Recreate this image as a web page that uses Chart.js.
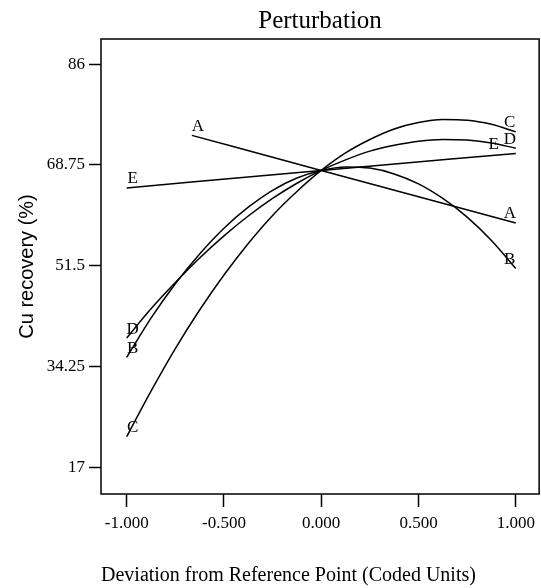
<!DOCTYPE html>
<html>
<head>
<meta charset="utf-8">
<script src="https://cdn.jsdelivr.net/npm/chart.js@4.4.1/dist/chart.umd.min.js"></script>
<style>
  html, body { margin: 0; padding: 0; background: #fff; }
</style>
</head>
<body>
<canvas id="perturbation" width="541" height="588"></canvas>
<script>
// deviation from reference point (coded units)
const xGrid = [-1, -0.875, -0.75, -0.625, -0.5, -0.375, -0.25, -0.125, 0,
               0.125, 0.25, 0.375, 0.5, 0.625, 0.75, 0.875, 1];

// curved factors at each xGrid position
const valuesC = [22.2, 30.0, 37.3, 43.9, 49.9, 55.3, 60.1, 64.2, 67.8,
                 70.8, 73.1, 74.9, 76.0, 76.5, 76.4, 75.7, 74.4];
const valuesD = [39.1, 44.1, 48.6, 52.8, 56.6, 60.0, 63.0, 65.6, 67.8,
                 69.6, 71.1, 72.1, 72.8, 73.1, 73.0, 72.5, 71.6];
const valuesB = [35.8, 42.5, 48.4, 53.5, 57.9, 61.5, 64.4, 66.5, 67.8,
                 68.4, 68.2, 67.2, 65.5, 63.0, 59.8, 55.8, 51.0];

// straight factors
const xA = [-0.665, 0, 1];
const valuesA = [73.8, 67.8, 58.8];
const xE = [-1, 0, 1];
const valuesE = [64.8, 67.8, 70.7];

const xTicks = [-1, -0.5, 0, 0.5, 1];
const yTicks = [17, 34.25, 51.5, 68.75, 86];

function points(xs, ys) {
    return xs.map((x, i) => ({ x: x, y: ys[i] }));
}

function courbe(label, data) {
    return {
        label: label,
        data: data,
        borderColor: "#000",
        borderWidth: 1.5,
        pointRadius: 0,
        fill: false,
        cubicInterpolationMode: "monotone"
    };
}

// cadre autour du graphique + lettres au bout des courbes
const cadre = {
    id: "cadre",
    afterDatasetsDraw(chart) {
        const { ctx, chartArea: a } = chart;
        ctx.save();
        ctx.strokeStyle = "#000";
        ctx.lineWidth = 1.5;
        ctx.strokeRect(a.left, a.top, a.right - a.left, a.bottom - a.top);

        ctx.fillStyle = "#000";
        ctx.font = '17px "Liberation Serif"';
        ctx.textAlign = "center";
        ctx.textBaseline = "middle";
        chart.data.datasets.forEach((ds, i) => {
            const pts = chart.getDatasetMeta(i).data;
            const debut = pts[0];
            const fin = pts[pts.length - 1];
            ctx.fillText(ds.label, debut.x + 6, debut.y - 9);
            const dx = ds.label === "E" ? -22 : -6;
            ctx.fillText(ds.label, fin.x + dx, fin.y - 9);
        });
        ctx.restore();
    }
};

const config = {
    type: "line",
    data: {
        datasets: [
            courbe("A", points(xA, valuesA)),
            courbe("B", points(xGrid, valuesB)),
            courbe("C", points(xGrid, valuesC)),
            courbe("D", points(xGrid, valuesD)),
            courbe("E", points(xE, valuesE))
        ]
    },
    options: {
        responsive: false,
        animation: false,
        devicePixelRatio: 1,
        layout: { padding: { top: 0, right: 1, bottom: 0, left: 0 } },
        plugins: {
            legend: { display: false },
            tooltip: { enabled: false },
            title: {
                display: true,
                fullSize: false,
                text: "Perturbation",
                color: "#000",
                font: { family: "Liberation Serif", size: 25, weight: "normal" },
                padding: { top: 6, bottom: 3 }
            }
        },
        scales: {
            x: {
                type: "linear",
                min: -1.132,
                max: 1.12,
                afterBuildTicks: axis => { axis.ticks = xTicks.map(v => ({ value: v })); },
                afterFit: scale => { scale.height = 94; },
                border: { display: false },
                grid: { drawOnChartArea: false, drawTicks: true, tickLength: 13, tickColor: "#000", tickWidth: 1.5 },
                ticks: {
                    color: "#000",
                    padding: 6,
                    maxRotation: 0,
                    font: { family: "Liberation Serif", size: 17 },
                    callback: v => v.toFixed(3)
                },
                title: {
                    display: true,
                    align: "start",
                    text: "Deviation from Reference Point (Coded Units)",
                    color: "#000",
                    font: { family: "Liberation Serif", size: 20 },
                    padding: { top: 0, bottom: 0 }
                }
            },
            y: {
                min: 12.4,
                max: 90.3,
                afterBuildTicks: axis => { axis.ticks = yTicks.map(v => ({ value: v })); },
                afterFit: scale => { scale.width = 101; },
                border: { display: false },
                grid: { drawOnChartArea: false, drawTicks: true, tickLength: 12, tickColor: "#000", tickWidth: 1.5 },
                ticks: {
                    color: "#000",
                    padding: 4,
                    font: { family: "Liberation Serif", size: 17 },
                    callback: v => String(v)
                },
                title: {
                    display: true,
                    text: "Cu recovery (%)",
                    color: "#000",
                    font: { family: "Liberation Sans", size: 20 },
                    padding: { top: 15, bottom: 0 }
                }
            }
        }
    },
    plugins: [cadre]
};

new Chart(document.querySelector("#perturbation"), config);
</script>
</body>
</html>
